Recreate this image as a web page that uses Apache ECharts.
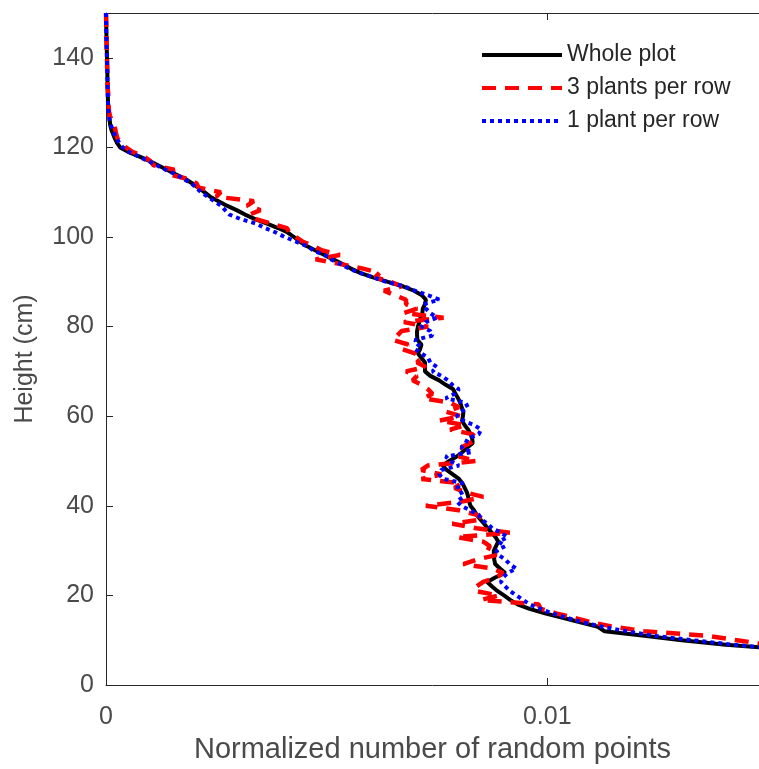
<!DOCTYPE html>
<html>
<head>
<meta charset="utf-8">
<script src="https://cdn.jsdelivr.net/npm/echarts@6/dist/echarts.min.js"></script>
<style>
html,body{margin:0;padding:0;background:#fff;}
#chart{width:759px;height:769px;}
</style>
</head>
<body>
<div id="chart"></div>
<script>
// Heights (cm), shared by the three profiles
var heights = [150,149,148,147,146,145,144,143,142,141,140,139,138,137,136,135,134,133,132,131,
130,129,128,127,126,125,124,123,122,121,120,119,118,117,116,115,114,113,112,111,
110,109,108,107,106,105,104,103,102,101,100,99,98,97,96,95,94,93,92,91,
90,89,88,87,86,85,84,83,82,81,80,79,78,77,76,75,74,73,72,71,
70,69,68,67,66,65,64,63,62,61,60,59,58,57,56,55,54,53,52,51,
50,49,48,47,46,45,44,43,42,41,40,39,38,37,36,35,34,33,32,31,
30,29,28,27,26,25,24,23,22,21,20,19,18,17,16,15,14,13,12,11,
10,9,8];

// Normalized number of random points, in units of 1e-4
var wholePlot = [0.0,0.02,0.04,0.06,0.08,0.1,0.12,0.14,0.17,0.2,0.23,0.25,0.27,0.3,0.32,0.34,0.36,0.38,0.4,0.43,
0.46,0.55,0.65,0.75,0.85,0.95,1.2,1.6,2.0,2.5,3.2,5.0,7.5,9.8,11.8,13.8,15.8,17.9,19.5,21.0,
22.3,23.6,25.5,27.4,29.6,31.5,33.8,36.5,39.0,41.2,42.6,43.9,45.5,47.5,49.5,51.5,53.5,55.4,57.6,60.5,
63.9,67.3,69.8,71.6,72.5,72.3,71.8,71.7,71.3,71.0,70.7,70.5,70.5,70.6,71.5,71.2,70.7,71.5,72.3,72.3,
72.3,73.5,75.5,77.0,78.7,79.2,79.8,80.3,80.6,81.0,80.9,80.7,81.3,82.1,82.6,83.0,83.1,81.8,80.8,79.5,
77.8,76.3,77.2,78.6,80.0,80.8,81.3,81.8,82.1,82.3,82.6,83.4,84.0,84.8,85.7,86.5,87.4,88.3,88.9,88.4,
87.9,87.9,88.0,88.2,89.3,90.5,88.2,86.4,87.5,88.7,90.2,91.6,93.3,96.0,99.5,103.5,107.5,111.5,113.0,122.0,
130.5,140.5,153.0];

var threePlants = [0.0,0.03,0.05,0.05,0.08,0.1,0.12,0.13,0.17,0.2,0.22,0.25,0.26,0.3,0.31,0.34,0.35,0.4,0.5,0.5,
0.5,0.6,0.7,0.9,1.3,1.8,2.1,2.3,2.6,3.5,4.5,6.0,8.5,10.0,10.8,15.5,14.0,18.5,20.5,21.0,
26.0,25.0,33.5,32.0,35.0,32.5,34.0,37.5,41.0,41.5,43.0,44.5,47.0,49.0,53.0,47.5,53.0,58.0,62.0,61.0,
64.5,67.0,63.0,65.5,68.0,68.0,70.5,67.5,76.5,67.5,73.0,67.0,66.0,65.0,68.5,67.0,70.0,71.5,70.5,72.5,
68.0,70.5,69.5,71.5,73.0,74.0,72.0,78.0,80.0,77.0,80.5,75.5,81.5,78.0,83.0,84.0,82.5,80.5,81.5,80.0,
84.0,73.0,71.5,76.0,71.5,80.5,79.0,81.5,85.5,81.0,72.5,80.0,84.0,85.5,78.5,84.0,91.5,79.5,85.5,87.0,
86.5,88.5,84.0,81.0,87.5,90.0,88.5,85.5,84.0,83.5,89.0,85.0,98.0,98.5,102.0,106.0,110.0,115.0,122.0,136.0,
143.0,150.0,158.0];

var onePlant = [0.0,0.0,0.02,0.05,0.06,0.08,0.1,0.12,0.15,0.18,0.2,0.22,0.25,0.27,0.3,0.32,0.34,0.36,0.38,0.4,
0.44,0.5,0.55,0.65,0.8,1.1,1.5,1.9,2.4,3.0,3.8,5.2,7.3,9.5,11.5,13.5,15.8,17.5,19.3,20.5,
21.5,23.0,24.5,26.0,27.0,28.0,30.5,34.0,36.0,38.5,40.5,43.0,45.5,47.0,49.5,51.0,53.0,55.0,57.5,60.5,
63.5,67.5,70.0,73.0,75.5,72.0,72.5,73.5,75.0,72.5,71.5,73.5,74.0,70.0,71.0,70.0,71.5,73.0,73.5,75.0,
74.0,76.0,77.5,78.5,80.0,79.0,77.0,81.5,82.0,80.5,79.5,81.0,83.5,85.0,84.5,82.0,81.5,80.5,83.0,77.0,
78.0,80.0,76.0,75.5,76.5,81.0,79.5,80.5,81.0,79.5,80.5,82.5,84.5,85.0,86.5,87.5,89.5,91.0,89.0,90.5,
88.5,89.0,90.5,91.5,93.0,91.0,90.0,89.5,90.5,91.5,93.0,94.5,96.0,98.5,101.0,104.5,108.0,112.5,118.0,124.0,
133.0,142.0,153.0];

var seriesNames = ['Whole plot', '3 plants per row', '1 plant per row'];
var xTicks = [0, 0.01];
var yTicks = [0, 20, 40, 60, 80, 100, 120, 140];

function pairs(vals) {
  var out = [];
  for (var i = 0; i < heights.length; i++) out.push([vals[i] * 1e-4, heights[i]]);
  return out;
}

var FONT = "'Liberation Sans', Arial, Helvetica, sans-serif";
var AX = '#262626';
var TXT = '#4a4a4a';

var chart = echarts.init(document.getElementById('chart'), null, {renderer: 'canvas'});
chart.setOption({
  animation: false,
  backgroundColor: '#ffffff',
  grid: {left: 106, top: 13, right: 0, height: 673, containLabel: false},
  legend: {
    orient: 'vertical',
    left: 480,
    top: 42,
    padding: 0,
    itemWidth: 80,
    itemHeight: 14,
    itemGap: 7,
    data: seriesNames,
    itemStyle: {opacity: 0},
    lineStyle: {width: 4},
    textStyle: {fontFamily: FONT, fontSize: 23, color: '#262626', lineHeight: 26}
  },
  xAxis: [{
    type: 'value',
    min: 0, max: 0.0148, interval: 0.01,
    position: 'bottom',
    name: 'Normalized number of random points',
    nameLocation: 'middle',
    nameGap: 50,
    nameTextStyle: {fontFamily: FONT, fontSize: 29, color: TXT},
    axisLine: {show: true, onZero: false, lineStyle: {color: AX, width: 1}},
    axisTick: {show: true, inside: true, length: 7, lineStyle: {color: AX}},
    axisLabel: {
      fontFamily: FONT, fontSize: 25, color: TXT, margin: 20,
      showMaxLabel: false,
      formatter: function (v) { return xTicks.indexOf(v) >= 0 ? String(v) : ''; }
    },
    splitLine: {show: false}
  }, {
    type: 'value',
    min: 0, max: 0.0148, interval: 0.01,
    position: 'top',
    axisLine: {show: true, onZero: false, lineStyle: {color: AX, width: 1}},
    axisTick: {show: true, inside: true, length: 7, lineStyle: {color: AX}},
    axisLabel: {show: false},
    splitLine: {show: false}
  }],
  yAxis: {
    type: 'value',
    min: 0, max: 150, interval: 20,
    name: 'Height (cm)',
    nameLocation: 'middle',
    nameGap: 68,
    nameTextStyle: {fontFamily: FONT, fontSize: 25, color: TXT, padding: [0, 20, 0, 0]},
    axisLine: {show: true, onZero: false, lineStyle: {color: AX, width: 1}},
    axisTick: {show: true, inside: true, length: 7, lineStyle: {color: AX}},
    axisLabel: {
      fontFamily: FONT, fontSize: 25, color: TXT, margin: 12,
      showMaxLabel: false,
      formatter: function (v) { return yTicks.indexOf(v) >= 0 ? String(v) : ''; }
    },
    splitLine: {show: false}
  },
  series: [{
    name: seriesNames[0],
    type: 'line',
    data: pairs(wholePlot),
    showSymbol: false, symbol: 'none',
    lineStyle: {color: '#000000', width: 4},
    itemStyle: {color: '#000000'},
    clip: true
  }, {
    name: seriesNames[1],
    type: 'line',
    data: pairs(threePlants),
    showSymbol: false, symbol: 'none',
    lineStyle: {color: '#ff0000', width: 4.5, type: [14, 9]},
    itemStyle: {color: '#ff0000'},
    clip: true
  }, {
    name: seriesNames[2],
    type: 'line',
    data: pairs(onePlant),
    showSymbol: false, symbol: 'none',
    lineStyle: {color: '#0000ff', width: 4, type: [4, 4]},
    itemStyle: {color: '#0000ff'},
    clip: true
  }]
});
</script>
</body>
</html>
